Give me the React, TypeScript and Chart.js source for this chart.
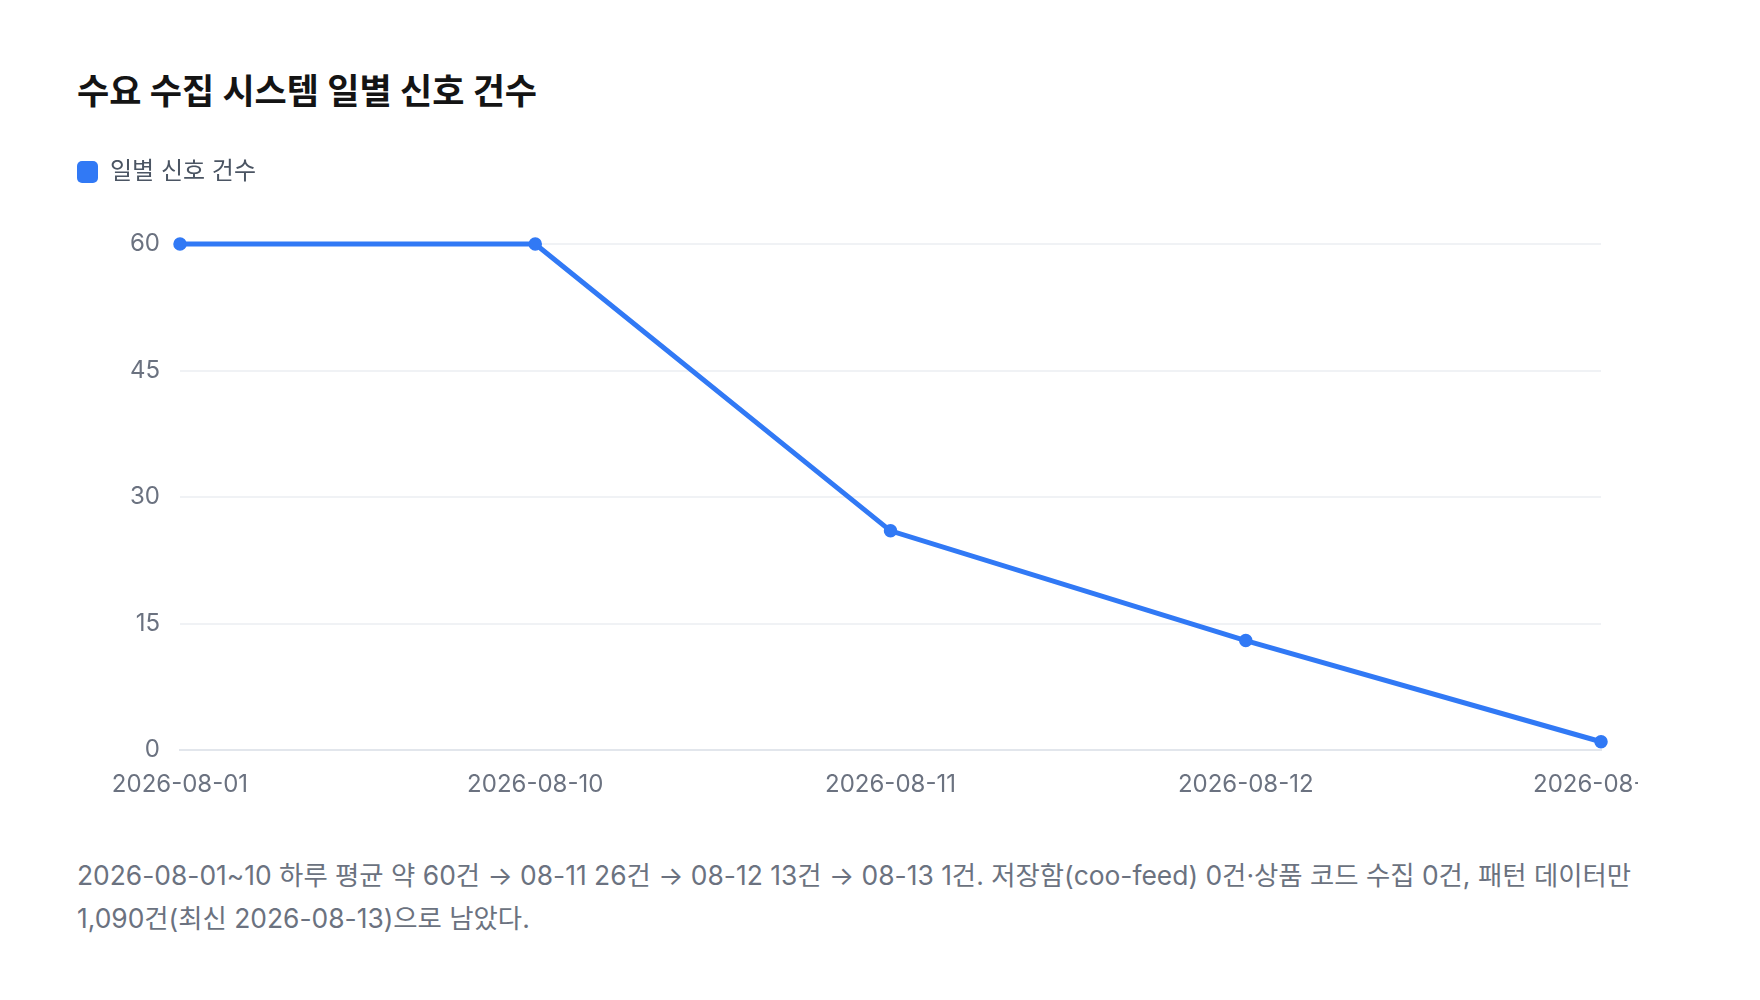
import React, { useEffect, useRef } from 'react';
import { Chart, registerables } from 'chart.js';

Chart.register(...registerables);

// data
const dates = ['2026-08-01', '2026-08-10', '2026-08-11', '2026-08-12', '2026-08-13'];
const dailySignals = [60, 60, 26, 13, 1];
const yTicks = [0, 15, 30, 45, 60];

const BLUE = '#3179f5';
const FONT = "Inter, 'Noto Sans CJK KR', sans-serif";

// pushes the plot down, away from the legend
const legendSpacing = {
    id: 'legendSpacing',
    beforeInit(chart: any) {
        const legend = chart.legend;
        if (!legend) return;
        const origFit = legend.fit;
        legend.fit = function () {
            origFit.call(this);
            this.height += 50;
        };
    },
};

const SignalChart: React.FC = () => {
    const canvasRef = useRef<HTMLCanvasElement>(null);
    const chartRef = useRef<Chart | null>(null);

    useEffect(() => {
        if (!canvasRef.current) return;
        chartRef.current?.destroy();
        chartRef.current = new Chart(canvasRef.current, {
            type: 'line',
            data: {
                labels: dates,
                datasets: [{
                    label: '일별 신호 건수',
                    data: dailySignals,
                    borderColor: BLUE,
                    backgroundColor: BLUE,
                    borderWidth: 5,
                    tension: 0,
                    clip: false,
                    pointRadius: 6,
                    pointBackgroundColor: BLUE,
                    pointBorderColor: BLUE,
                    pointBorderWidth: 1.5,
                }],
            },
            options: {
                animation: false,
                responsive: true,
                maintainAspectRatio: false,
                layout: { padding: { top: 0, bottom: 16, left: 0, right: 0 } },
                plugins: {
                    legend: {
                        position: 'top',
                        align: 'start',
                        labels: {
                            boxWidth: 21,
                            boxHeight: 22,
                            useBorderRadius: true,
                            borderRadius: 5,
                            padding: 10,
                            color: '#4b5563',
                            font: { family: FONT, size: 24 },
                            generateLabels: (chart) =>
                                Chart.defaults.plugins.legend.labels.generateLabels(chart).map((l) => ({ ...l, lineWidth: 0 })),
                        },
                    },
                    tooltip: { enabled: false },
                },
                scales: {
                    x: {
                        grid: { display: false, drawTicks: false },
                        border: { display: true, color: '#e2e6ec', width: 2 },
                        ticks: { color: '#6b7280', padding: 20, maxRotation: 0, autoSkip: false, font: { family: FONT, size: 24 } },
                    },
                    y: {
                        min: 0,
                        max: 60,
                        afterFit: (scale) => { scale.width = 113; },
                        afterBuildTicks: (scale) => { scale.ticks = yTicks.map((v) => ({ value: v })); },
                        grid: { color: '#f0f2f5', lineWidth: 2, drawTicks: false },
                        border: { display: false },
                        ticks: { color: '#6b7280', padding: 20, font: { family: FONT, size: 24 } },
                    },
                },
            },
            plugins: [legendSpacing],
        });
        return () => {
            chartRef.current?.destroy();
            chartRef.current = null;
        };
    }, []);

    return (
        <div style={{ width: 1571, height: 685, overflow: 'hidden', marginLeft: -10 }}>
            <div style={{ position: 'relative', width: 1622, height: 685 }}>
                <canvas ref={canvasRef}></canvas>
            </div>
        </div>
    );
};

const App: React.FC = () => (
    <div style={{ padding: '63px 0 0 69px', fontFamily: FONT }}>
        <h2 style={{ margin: 0, fontSize: 35, fontWeight: 700, lineHeight: '40px', color: '#141414' }}>수요 수집 시스템 일별 신호 건수</h2>
        <div style={{ marginTop: 39 }}>
            <SignalChart />
        </div>
        <p style={{ margin: '19px 0 0', width: 1600, fontSize: 26.4, lineHeight: '43px', color: '#6b7280' }}>
            2026-08-01~10 하루 평균 약 60건 → 08-11 26건 → 08-12 13건 → 08-13 1건. 저장함(coo-feed) 0건·상품 코드 수집 0건, 패턴 데이터만 1,090건(최신 2026-08-13)으로 남았다.
        </p>
    </div>
);

export default App;
